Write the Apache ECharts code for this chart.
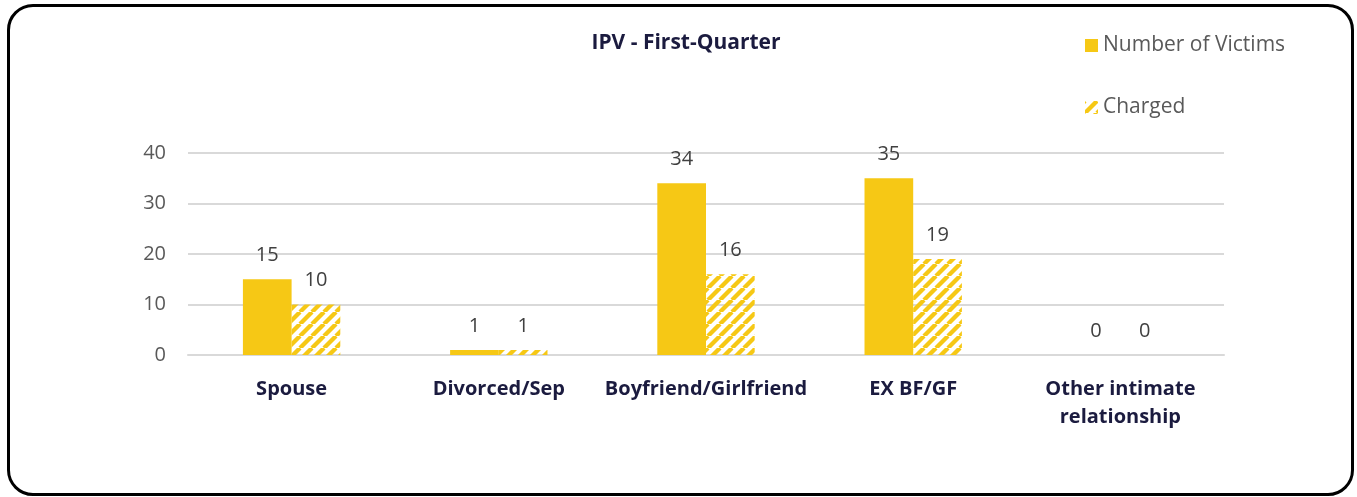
<!DOCTYPE html>
<html><head><meta charset="utf-8">
<script src="https://cdn.jsdelivr.net/npm/echarts@6/dist/echarts.min.js"></script>
<style>
html,body{margin:0;padding:0;background:#fff;}
#c{position:absolute;left:0;top:0;width:1357px;height:497px;}
#frame{position:absolute;left:7px;top:4px;width:1341px;height:486px;border:3px solid #000;border-radius:26px;pointer-events:none;}
</style></head>
<body>
<div id="c"></div><div id="frame"></div>
<script>
const categories = ['Spouse','Divorced/Sep','Boyfriend/Girlfriend','EX BF/GF','Other intimate relationship'];
const victims = [15, 1, 34, 35, 0];
const charged = [10, 1, 16, 19, 0];
const yTicks = [0, 10, 20, 30, 40];

const YELLOW = '#F6C815';
const FONT = '"Open Sans", Lato, sans-serif';

function hatch(){
  const s = 12, cv = document.createElement('canvas');
  cv.width = s; cv.height = s;
  const g = cv.getContext('2d');
  g.strokeStyle = YELLOW;
  g.lineWidth = 4.3;
  g.beginPath();
  for (let k = -2; k <= 2; k++) {
    g.moveTo(k*s, s); g.lineTo(k*s + s, 0);
  }
  g.stroke();
  return cv;
}
const pattern = {image: hatch(), repeat: 'repeat'};

const chart = echarts.init(document.getElementById('c'), null, {renderer:'canvas'});
const lbl = {show:true, position:'top', distance:14, color:'#404040', fontSize:20, fontFamily:FONT};
chart.setOption({
  animation:false,
  title:{text:'IPV - First-Quarter', left:681, textAlign:'center', top:28,
    textStyle:{fontFamily:FONT, fontWeight:'bold', fontSize:21, color:'#1b1b3f'}},
  legend:{orient:'vertical', left:1085, top:35, padding:0, itemWidth:13, itemHeight:13, itemGap:41,
    icon:'rect',
    textStyle:{fontFamily:FONT, fontSize:21, color:'#595959'},
    data:['Number of Victims','Charged']},
  grid:{left:188, right:133, top:153, bottom:142},
  xAxis:{type:'category', data:categories,
    axisLine:{lineStyle:{color:'#d9d9d9', width:2}}, axisTick:{show:false},
    axisLabel:{interval:0, margin:20, fontFamily:FONT, fontWeight:'bold', fontSize:20, color:'#1b1b3f', lineHeight:28,
      formatter:v=>v.replace('intimate ','intimate\n')}},
  yAxis:{type:'value', min:yTicks[0], max:yTicks[yTicks.length-1], interval:10,
    axisLine:{show:false}, axisTick:{show:false},
    splitLine:{lineStyle:{color:'#d9d9d9', width:2}},
    axisLabel:{margin:22, fontFamily:FONT, fontSize:20, color:'#595959'}},
  series:[
    {name:'Number of Victims', type:'bar', data:victims, barGap:'0%', barCategoryGap:'53%',
      itemStyle:{color:YELLOW}, label:lbl},
    {name:'Charged', type:'bar', data:charged,
      itemStyle:{color:pattern}, label:lbl}
  ]
});
</script>
</body></html>
